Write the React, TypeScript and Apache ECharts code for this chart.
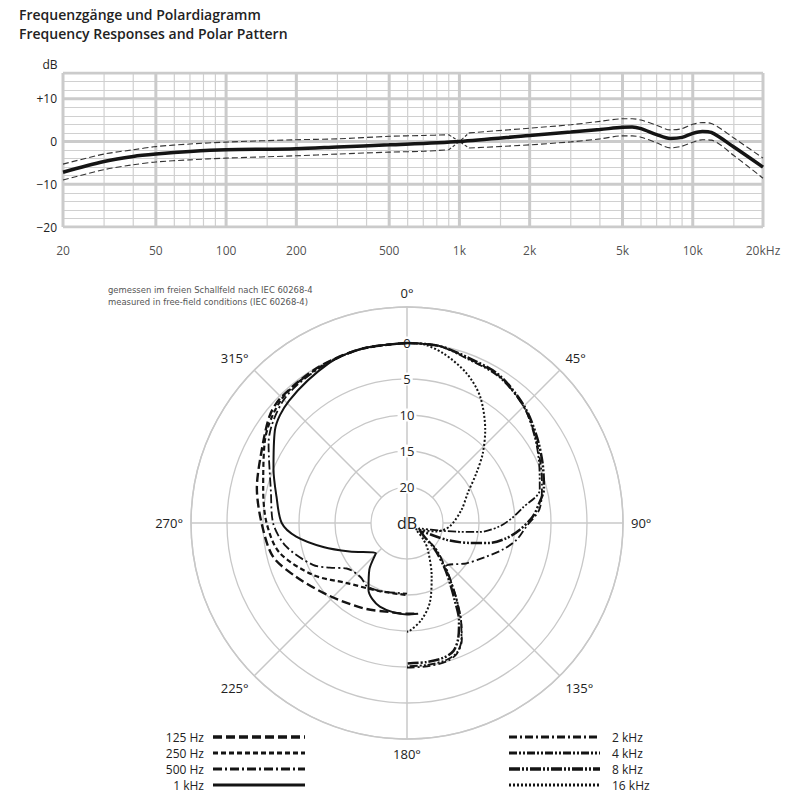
import React, { useEffect, useRef } from 'react';
import * as echarts from 'echarts';

const FONT = '"Open Sans", "Noto Sans", sans-serif';
const NARROW = '"Liberation Sans Narrow", "DejaVu Sans Condensed", "Noto Sans", sans-serif';

const TITLE_DE = 'Frequenzgänge und Polardiagramm';
const TITLE_EN = 'Frequency Responses and Polar Pattern';
const NOTE_DE = 'gemessen im freien Schallfeld nach IEC 60268-4';
const NOTE_EN = 'measured in free-field conditions (IEC 60268-4)';

// ---- frequency response ----
const freqMain = [20, 30, 40, 50, 70, 100, 200, 300, 500, 1000, 2000, 3000, 4000, 5000, 5500, 6000, 7000, 8000, 9000, 10000, 11000, 12000, 15000, 20000];
const respMain = [-7.2, -4.7, -3.5, -2.95, -2.35, -1.95, -1.7, -1.3, -0.8, 0, 1.4, 2.2, 2.8, 3.3, 3.4, 3.0, 1.6, 0.7, 0.95, 1.9, 2.35, 2.1, -1.3, -6.0];

const freqTol = [20, 30, 40, 50, 70, 100, 200, 300, 500, 700, 900, 1000, 1100, 2000, 3000, 4000, 5000, 5500, 6000, 7000, 8000, 9000, 10000, 11000, 12000, 15000, 20000];
const upperTol = [-5.3, -2.95, -1.95, -1.2, -0.6, -0.15, 0.4, 0.6, 1.2, 1.4, 1.55, 0, 2.0, 3.1, 3.9, 4.7, 5.3, 5.3, 5.0, 3.8, 2.7, 3.0, 4.0, 4.4, 4.2, 0.8, -3.9];
const lowerTol = [-9.0, -6.6, -5.45, -4.8, -4.3, -3.9, -3.35, -2.95, -2.5, -2.3, -1.95, 0, -1.55, -0.8, -0.1, 0.6, 1.3, 1.3, 1.0, -0.3, -1.5, -1.1, -0.2, 0.4, 0.3, -3.3, -8.6];
const PINCH_FREQ = 1000;

const xMajor = [20, 50, 100, 200, 500, 1000, 2000, 5000, 10000, 20000];
const xMajorLabels = ['20', '50', '100', '200', '500', '1k', '2k', '5k', '10k', '20kHz'];
const xMinor = [30, 40, 60, 70, 80, 90, 150, 300, 400, 600, 700, 800, 900, 1500, 3000, 4000, 6000, 7000, 8000, 9000, 15000];
const yMajor = [-20, -10, 0, 10, 16];
const yLabels: Record<number, string> = { 10: '+10', 0: '0', [-10]: '\u221210', [-20]: '\u221220' };

// ---- polar pattern (attenuation in dB, angle in degrees) ----
const ang125 = [360, 345, 330, 315, 308, 296, 283, 270, 256, 244, 227, 207, 191, 180, 173];
const att125 = [0, 0, 0.1, 0.3, 0.8, 2.5, 3.6, 4.8, 5.8, 7.9, 10.2, 11.7, 12.4, 12.4, 12.3];

const ang250 = [360, 345, 330, 315, 300, 283, 270, 257, 241, 225, 202, 180];
const att250 = [0, 0, 0.2, 0.5, 2.2, 4.5, 5.5, 6.8, 10.1, 13.2, 14.8, 15.0];

const ang500 = [360, 345, 330, 315, 300, 283, 270, 259, 246, 240, 233, 221, 212, 200, 180];
const att500 = [0, 0, 0.3, 0.8, 2.8, 5.6, 6.4, 7.9, 10.7, 12.6, 14.5, 15.1, 14.6, 14.9, 15.2];

const ang1k = [360, 346, 334, 316, 305, 292, 281.5, 270, 263, 254, 243.6, 226, 219, 210, 198, 180, 173];
const att1k = [0, 0, 0.3, 1.4, 2.6, 5.0, 6.5, 7.6, 9.5, 12.9, 16.1, 19.0, 16.7, 14.3, 12.8, 12.3, 12.3];

const ang2k = [0, 10, 20, 32, 45, 56, 66, 74, 84, 91.6, 98.7, 105.5, 112.8, 124, 138, 143, 147, 151.5, 155, 159, 164, 172, 180];
const att2k = [0, 0, 0.6, 0.9, 2.1, 3.5, 4.7, 5.5, 6.5, 8.4, 9.6, 11.2, 13.0, 15.0, 16.9, 14.8, 12.4, 9.2, 7.0, 5.6, 5.0, 4.9, 4.9];

const ang4k = [0, 10, 20, 32, 45, 56, 66, 76, 82.5, 87, 92, 97, 99.5, 103, 114, 127, 132, 140, 143.5, 147, 151.5, 155, 159, 164, 172, 180];
const att4k = [0, 0, 0.7, 1.0, 2.1, 3.6, 4.9, 6.0, 8.8, 10.3, 12.1, 14.8, 17.6, 20.3, 23.2, 22.5, 19.5, 16.5, 14.6, 12.3, 9.2, 7.1, 5.7, 5.2, 5.1, 5.1];

const ang8k = [0, 10, 20, 32, 45, 56, 66, 76, 81.3, 87, 93.4, 98.6, 103.6, 107.7, 113, 119, 128, 133, 140, 144, 148, 152, 156, 160, 165, 172, 180];
const att8k = [0, 0, 0.5, 0.8, 2.0, 3.3, 4.4, 5.4, 6.4, 7.5, 9.3, 11.0, 13.2, 15.9, 19.0, 22.8, 22.0, 19.8, 16.9, 15.0, 12.6, 9.6, 7.5, 6.1, 5.6, 5.5, 5.5];

const ang16k = [0, 4, 12, 21.6, 30, 40, 47.4, 54.2, 63.8, 76.3, 94.6, 106, 118, 126, 135, 142, 155, 164, 171.5, 178.6, 180];
const att16k = [0, 0, 0.9, 2.6, 4.7, 8.1, 10.7, 13.1, 15.6, 17.2, 19.05, 20.75, 23.0, 23.5, 21.8, 20.3, 16.9, 13.5, 11.4, 10.0, 9.9];

const polarSeries = [
  { name: '125 Hz', ang: ang125, att: att125, dash: [9, 4], width: 2.4, side: 'left' },
  { name: '250 Hz', ang: ang250, att: att250, dash: [5, 3], width: 2.2, side: 'left' },
  { name: '500 Hz', ang: ang500, att: att500, dash: [9, 3, 2, 3], width: 1.8, side: 'left' },
  { name: '1 kHz', ang: ang1k, att: att1k, dash: 'solid', width: 2, side: 'left' },
  { name: '2 kHz', ang: ang2k, att: att2k, dash: [8, 3, 2, 3], width: 1.8, side: 'right' },
  { name: '4 kHz', ang: ang4k, att: att4k, dash: [8, 2, 2, 2, 2, 2], width: 1.8, side: 'right' },
  { name: '8 kHz', ang: ang8k, att: att8k, dash: [11, 2, 2, 2, 2, 2], width: 2.5, side: 'right' },
  { name: '16 kHz', ang: ang16k, att: att16k, dash: [2, 2], width: 2, side: 'right' },
];

const spokeAngles = [45, 90, 135, 225, 270, 315];

const GRID_COLOR = '#d0d0d0';
const INK = '#141414';

export default function App() {
  const ref = useRef<HTMLDivElement>(null);

  useEffect(() => {
    if (!ref.current) return;
    const chart = echarts.init(ref.current, undefined, { renderer: 'svg' });

    const series: any[] = [];

    // rectangular grid lines
    xMinor.forEach((f) =>
      series.push({
        type: 'line', silent: true, showSymbol: false, z: 1,
        data: [[f, -20], [f, 16]],
        lineStyle: { color: GRID_COLOR, width: 1.2 },
      })
    );
    xMajor.forEach((f) =>
      series.push({
        type: 'line', silent: true, showSymbol: false, z: 1,
        data: [[f, -20], [f, 16]],
        lineStyle: { color: '#cbcbcb', width: 3 },
      })
    );
    yMajor.forEach((v) =>
      series.push({
        type: 'line', silent: true, showSymbol: false, z: 1,
        data: [[20, v], [20000, v]],
        lineStyle: { color: '#cbcbcb', width: 3 },
      })
    );
    // x tick labels
    series.push({
      type: 'scatter', silent: true, symbolSize: 0, z: 2,
      data: xMajor.map((f, i) => ({ value: [f, -20], label: { formatter: xMajorLabels[i] } })),
      label: { show: true, position: 'bottom', distance: 17, fontSize: 12, color: '#222', fontFamily: FONT },
    });
    // tolerance curves: smooth parts, with a straight pinch at 1 kHz
    const pinchIdx = freqTol.indexOf(PINCH_FREQ);
    [upperTol, lowerTol].forEach((tol) => {
      series.push({
        type: 'line', silent: true, showSymbol: false, smooth: 0.3, z: 3, connectNulls: false,
        data: freqTol.map((f, i) => (i === pinchIdx ? [f, null] : [f, tol[i]])),
        lineStyle: { color: '#333', width: 1.1, type: [6, 3] },
      });
      series.push({
        type: 'line', silent: true, showSymbol: false, smooth: false, z: 3,
        data: [pinchIdx - 1, pinchIdx, pinchIdx + 1].map((i) => [freqTol[i], tol[i]]),
        lineStyle: { color: '#333', width: 1.1, type: [3, 2] },
      });
    });
    series.push({
      type: 'line', silent: true, showSymbol: false, smooth: 0.3, z: 4,
      data: freqMain.map((f, i) => [f, respMain[i]]),
      lineStyle: { color: INK, width: 3.5 },
    });

    // polar spokes
    spokeAngles.forEach((a) =>
      series.push({
        type: 'line', coordinateSystem: 'polar', polarIndex: 0, silent: true, showSymbol: false, z: 1,
        data: [[20, a], [-5, a]],
        lineStyle: { color: '#c8c8c8', width: 1.5 },
      })
    );
    series.push({
      type: 'line', coordinateSystem: 'polar', polarIndex: 0, silent: true, showSymbol: false, z: 1,
      data: [[25, 180], [-5, 180]],
      lineStyle: { color: '#c8c8c8', width: 1.5 },
    });

    polarSeries.forEach((s) =>
      series.push({
        type: 'line', coordinateSystem: 'polar', polarIndex: 0, silent: true, showSymbol: false,
        smooth: 0.3, z: 3,
        data: s.ang.map((a, i) => [s.att[i], a]),
        lineStyle: { color: INK, width: s.width, type: s.dash },
      })
    );

    // legend drawn as graphic
    const legendRowsY = [737, 753, 769, 785];
    const graphic: any[] = [
      { type: 'text', x: 19, y: 14, style: { text: TITLE_DE, fontFamily: FONT, fontWeight: 600, fontSize: 14, fill: '#222', verticalAlign: 'middle' } },
      { type: 'text', x: 19, y: 33, style: { text: TITLE_EN, fontFamily: FONT, fontWeight: 600, fontSize: 14, fill: '#222', verticalAlign: 'middle' } },
      { type: 'text', x: 50, y: 64, style: { text: 'dB', fontFamily: FONT, fontSize: 12, fill: '#222', align: 'center', verticalAlign: 'middle' } },
      { type: 'text', x: 108, y: 289, style: { text: NOTE_DE, fontFamily: NARROW, fontSize: 9.4, fill: '#555', verticalAlign: 'middle' } },
      { type: 'text', x: 108, y: 301, style: { text: NOTE_EN, fontFamily: NARROW, fontSize: 9.4, fill: '#555', verticalAlign: 'middle' } },
    ];
    polarSeries.forEach((s, idx) => {
      const left = s.side === 'left';
      const row = left ? idx : idx - 4;
      const y = legendRowsY[row];
      const x1 = left ? 213 : 509;
      const x2 = left ? 305 : 600;
      graphic.push({
        type: 'line', shape: { x1, y1: y, x2, y2: y },
        style: { stroke: INK, lineWidth: s.width + 1, lineDash: s.dash === 'solid' ? null : s.dash },
      });
      graphic.push({
        type: 'text', x: left ? 204 : 612, y,
        style: { text: s.name, fontFamily: FONT, fontSize: 12, fill: '#222', align: left ? 'right' : 'left', verticalAlign: 'middle' },
      });
    });

    const option: any = {
      animation: false,
      textStyle: { fontFamily: FONT },
      grid: { left: 63, top: 73, width: 700, height: 154 },
      xAxis: {
        type: 'log', logBase: 10, min: 20, max: 20000,
        axisLine: { show: false }, axisTick: { show: false }, axisLabel: { show: false },
        splitLine: { show: false }, minorSplitLine: { show: false },
      },
      yAxis: {
        type: 'value', min: -20, max: 16, interval: 2,
        axisLine: { show: false }, axisTick: { show: false },
        splitLine: { show: true, lineStyle: { color: GRID_COLOR, width: 1.2 } },
        axisLabel: {
          margin: 6, fontSize: 12, color: '#222', fontFamily: FONT,
          formatter: (v: number) => yLabels[v] ?? '',
        },
      },
      polar: { center: [407, 523], radius: 216 },
      angleAxis: {
        type: 'value', min: 0, max: 360, interval: 45, startAngle: 90, clockwise: true,
        axisLine: { show: true, lineStyle: { color: '#c8c8c8', width: 1.5 } },
        axisTick: { show: false },
        splitLine: { show: false },
        axisLabel: {
          margin: 8, fontSize: 13, color: '#222', fontFamily: FONT,
          formatter: (v: number) => (v >= 360 ? '' : v + '°'),
        },
      },
      radiusAxis: {
        type: 'value', min: -5, max: 25, interval: 5, inverse: true,
        axisLine: { show: true, lineStyle: { color: '#c8c8c8', width: 1.5 } },
        axisTick: { show: false },
        splitLine: { show: true, lineStyle: { color: '#c8c8c8', width: 1.3 } },
        axisLabel: {
          margin: 0, align: 'center', verticalAlign: 'middle', fontFamily: FONT,
          formatter: (v: number) => (v === 25 ? '{d|dB}' : v === -5 ? '' : '{n|' + v + '}'),
          rich: {
            n: { fontSize: 13, color: '#222', backgroundColor: '#fff', padding: [0, 2], fontFamily: FONT },
            d: { fontSize: 16, color: '#222', fontFamily: FONT },
          },
        },
      },
      graphic,
      series,
    };

    chart.setOption(option);
    return () => chart.dispose();
  }, []);

  return <div ref={ref} style={{ position: 'absolute', left: 0, top: 0, width: 800, height: 800, background: '#fff' }} />;
}
